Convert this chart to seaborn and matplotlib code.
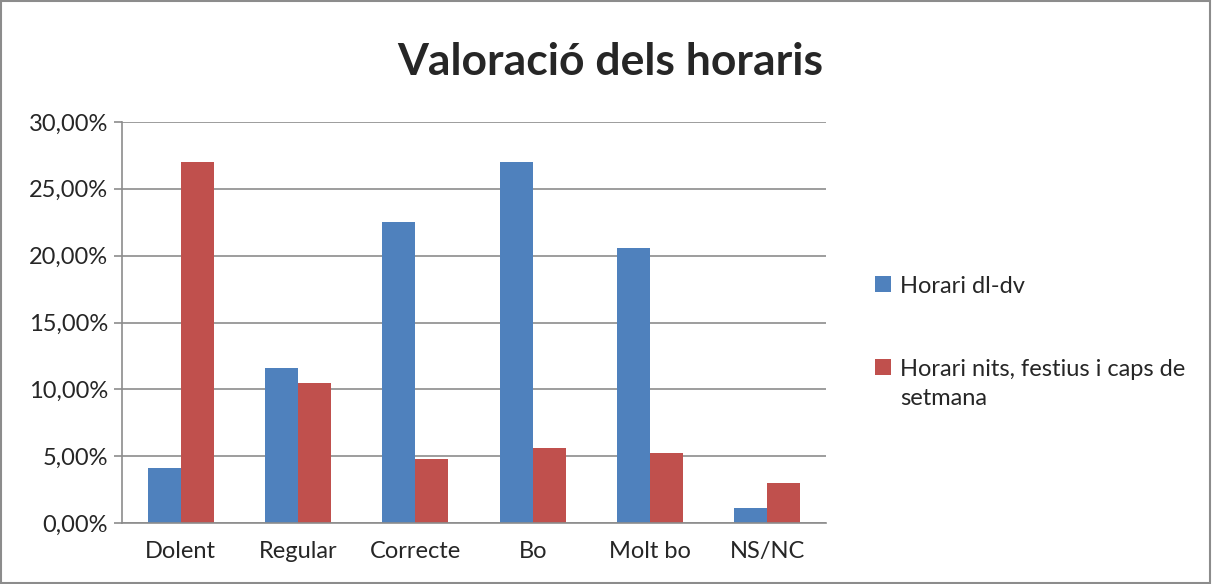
import seaborn as sns
import pandas as pd
import matplotlib.pyplot as plt
from matplotlib.patches import Rectangle
import numpy as np

#### DATA
categories = ['Dolent', 'Regular', 'Correcte', 'Bo', 'Molt bo', 'NS/NC']
horari_dl_dv = [4.1, 11.6, 22.5, 27.0, 20.6, 1.1]
horari_nits = [27.0, 10.5, 4.8, 5.6, 5.2, 3.0]
series = ['Horari dl-dv', 'Horari nits, festius i caps de\nsetmana']
colors = ['#4F81BD', '#C0504D']

df = pd.DataFrame({
    'cat': categories * 2,
    'val': horari_dl_dv + horari_nits,
    'serie': [series[0]] * len(categories) + [series[1]] * len(categories),
})

sns.set_style('white')
plt.rcParams['font.family'] = ['Lato', 'DejaVu Sans']

fig = plt.figure(figsize=(12.12, 5.84), dpi=100)
ax = fig.add_axes([122 / 1212, 1 - 523 / 584, (826 - 122) / 1212, (523 - 122) / 584])

sns.barplot(data=df, x='cat', y='val', hue='serie', palette=colors, saturation=1,
            width=0.565, order=categories, hue_order=series, ax=ax, legend=True,
            linewidth=0)

grid_c = '#8C8C8C'
ax.set_ylim(0, 30)
ax.set_xlim(-0.5, len(categories) - 0.5)
ax.set_yticks(np.arange(0, 31, 5))
ax.set_yticklabels([f'{v:.2f}%'.replace('.', ',') for v in np.arange(0, 31, 5)])
ax.yaxis.grid(True, color=grid_c, linewidth=1.2)
ax.set_axisbelow(True)
ax.set_xlabel('')
ax.set_ylabel('')

for s in ['top', 'right']:
    ax.spines[s].set_visible(False)
for s in ['left', 'bottom']:
    ax.spines[s].set_color(grid_c)
    ax.spines[s].set_linewidth(1.2)

# x ticks sit between the categories
ax.set_xticks(np.arange(-0.5, len(categories)), minor=True)
ax.tick_params(axis='x', which='major', length=0, labelsize=17, pad=13)
ax.tick_params(axis='x', which='minor', length=6, color=grid_c, width=1.2)
ax.tick_params(axis='y', length=6, color=grid_c, width=1.2, labelsize=17, pad=4, left=True)

ax.legend_.remove()
handles, labels = ax.get_legend_handles_labels()
leg = fig.legend(handles, labels, loc='upper left', bbox_to_anchor=(866 / 1212, 1 - 267 / 584),
                 frameon=False, fontsize=17, labelspacing=2.6, handlelength=0.65,
                 handleheight=0.65, handletextpad=0.4, borderaxespad=0)
for t in leg.get_texts():
    t.set_linespacing(1.5)
# square next to the first line of a wrapped label, like the original
for col in leg._legend_handle_box.get_children():
    for row in col.get_children():
        row.align = 'top'

fig.text(610 / 1212, 1 - 62 / 584, 'Valoració dels horaris', ha='center', va='center',
         fontsize=32, fontweight='bold')

# outer chart border
fig.patches.append(Rectangle((0.001, 0.001), 0.997, 0.997, transform=fig.transFigure,
                             fill=False, edgecolor=grid_c, linewidth=1.5))

plt.savefig('out.png', dpi=100)
